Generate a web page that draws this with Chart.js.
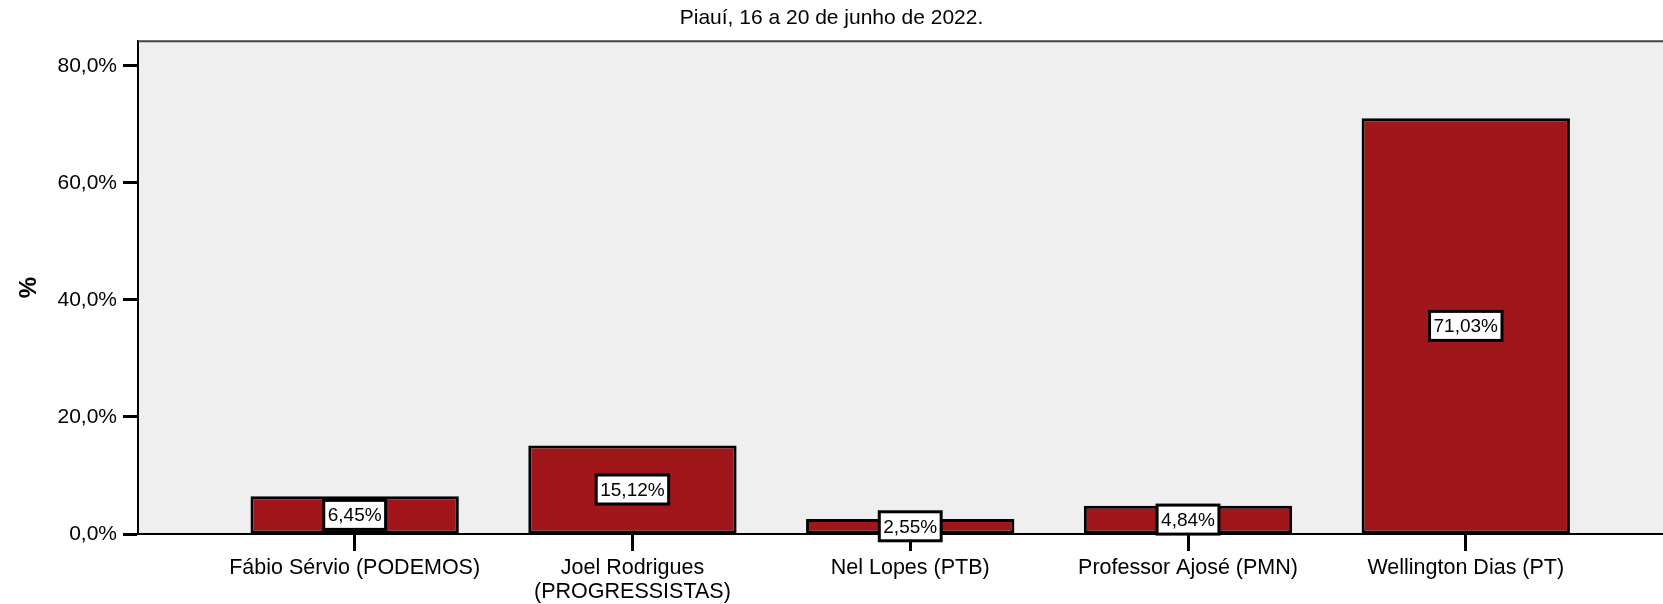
<!DOCTYPE html>
<html>
<head>
<meta charset="utf-8">
<script src="https://cdn.jsdelivr.net/npm/chart.js@4/dist/chart.umd.min.js"></script>
<style>
html,body{margin:0;padding:0;background:#fff;}
#wrap{width:1663px;height:604px;position:relative;}
</style>
</head>
<body>
<div id="wrap"><canvas id="c" width="1663" height="604"></canvas></div>
<script>
const title = 'Piauí, 16 a 20 de junho de 2022.';
const categories = [
  ['Fábio Sérvio (PODEMOS)'],
  ['Joel Rodrigues', '(PROGRESSISTAS)'],
  ['Nel Lopes (PTB)'],
  ['Professor Ajosé (PMN)'],
  ['Wellington Dias (PT)']
];
const values = [6.45, 15.12, 2.55, 4.84, 71.03];
const yTicks = [0, 20, 40, 60, 80];
const yAxisTitle = '%';

const FONT = '"Liberation Sans", Arial, sans-serif';
const fmt = (v, d) => v.toFixed(d).replace('.', ',') + '%';

const bgPlugin = {
  id: 'bg',
  beforeDraw(chart) {
    const {ctx, chartArea: a} = chart;
    ctx.save();
    ctx.fillStyle = '#EFEFEF';
    ctx.fillRect(a.left, a.top, a.right - a.left, a.bottom - a.top);
    ctx.restore();
  },
  afterDraw(chart) {
    const {ctx, chartArea: a} = chart;
    ctx.save();
    ctx.strokeStyle = '#444';
    ctx.lineWidth = 2;
    ctx.beginPath();
    ctx.moveTo(a.left, a.top);
    ctx.lineTo(a.right, a.top);
    ctx.stroke();
    ctx.restore();
  }
};

const labelPlugin = {
  id: 'vlabels',
  afterDatasetsDraw(chart) {
    const {ctx} = chart;
    const meta = chart.getDatasetMeta(0);
    ctx.save();
    ctx.font = '19px ' + FONT;
    ctx.textAlign = 'center';
    ctx.textBaseline = 'middle';
    meta.data.forEach((bar, i) => {
      const txt = fmt(values[i], 2);
      const w = ctx.measureText(txt).width + 8;
      const h = 29;
      const cx = bar.x;
      const cy = (bar.y + bar.base) / 2;
      ctx.fillStyle = '#fff';
      ctx.fillRect(cx - w / 2, cy - h / 2, w, h);
      ctx.strokeStyle = '#000';
      ctx.lineWidth = 3;
      ctx.strokeRect(cx - w / 2, cy - h / 2, w, h);
      ctx.fillStyle = '#000';
      ctx.fillText(txt, cx, cy + 1);
    });
    ctx.restore();
  }
};

new Chart(document.getElementById('c'), {
  type: 'bar',
  data: {
    datasets: [{
      data: values.map((v, i) => ({x: i, y: v})),
      backgroundColor: '#A0161A',
      borderColor: '#000',
      borderWidth: 3,
      borderSkipped: false,
      categoryPercentage: 1,
      barPercentage: 0.75
    }]
  },
  options: {
    responsive: false,
    animation: false,
    layout: {padding: {left: 0, right: 0, top: 0, bottom: 0}},
    plugins: {
      legend: {display: false},
      tooltip: {enabled: false},
      title: {
        display: true,
        text: title,
        color: '#000',
        font: {family: FONT, size: 21, weight: 'normal'},
        padding: {top: 6, bottom: 10}
      }
    },
    scales: {
      x: {
        type: 'linear',
        offset: false,
        min: -0.78,
        max: 4.71,
        afterBuildTicks(scale) { scale.ticks = categories.map((c, i) => ({value: i})); },
        afterFit(scale) { scale.height = 70; },
        ticks: {
          autoSkip: false,
          maxRotation: 0,
          minRotation: 0,
          padding: 5,
          color: '#000',
          font: {family: FONT, size: 21.5, lineHeight: 1.12},
          callback: (v) => categories[v]
        },
        grid: {offset: false, drawOnChartArea: false, drawTicks: true, tickLength: 17, tickColor: '#000', tickWidth: 3},
        border: {display: true, color: '#000', width: 2}
      },
      y: {
        min: 0,
        max: 84.2,
        afterBuildTicks(scale) { scale.ticks = yTicks.map(v => ({value: v})); },
        afterFit(scale) { scale.width = 138; },
        ticks: {
          padding: 6,
          color: '#000',
          font: {family: FONT, size: 21},
          callback: (v) => fmt(v, 1)
        },
        grid: {drawOnChartArea: false, drawTicks: true, tickLength: 15, tickColor: '#000', tickWidth: 3},
        border: {display: true, color: '#000', width: 2},
        title: {
          display: true,
          text: yAxisTitle,
          color: '#000',
          font: {family: FONT, size: 24, weight: 'bold'},
          padding: {top: 15, bottom: 0}
        }
      }
    }
  },
  plugins: [bgPlugin, labelPlugin]
});
</script>
</body>
</html>
